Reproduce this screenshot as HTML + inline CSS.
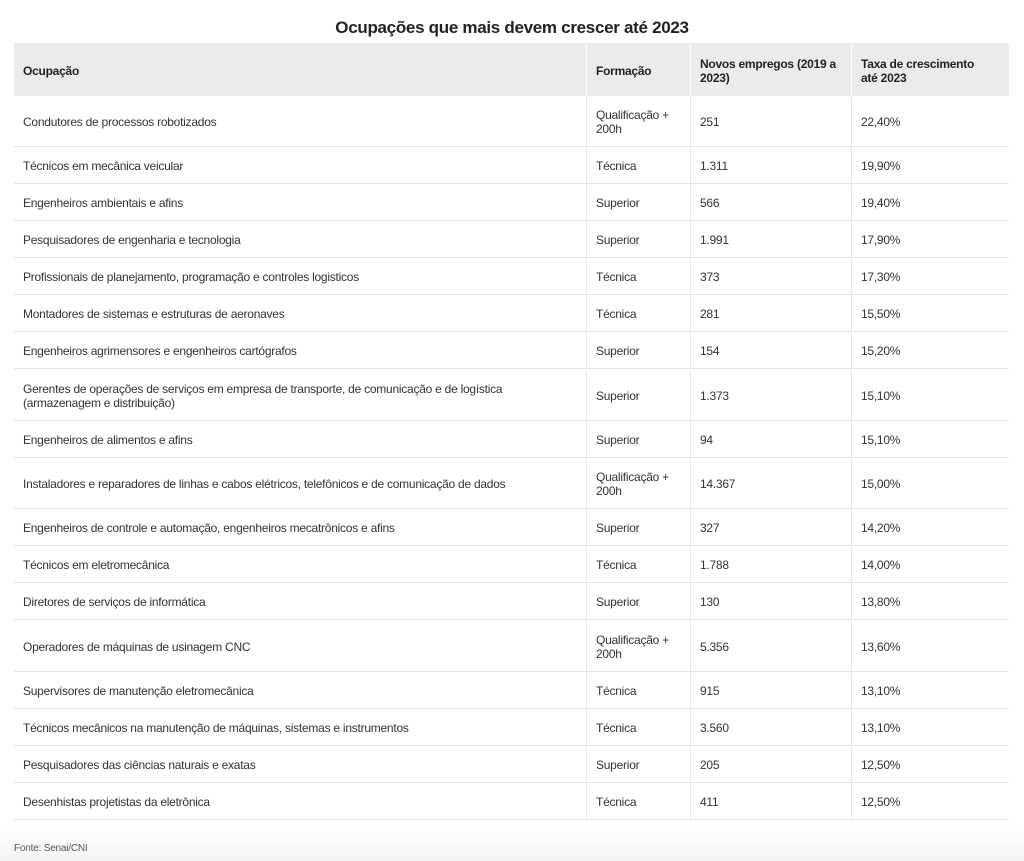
<!DOCTYPE html>
<html><head><meta charset="utf-8"><style>
body{margin:0;width:1024px;height:861px;background:#fff;font-family:"Liberation Sans",sans-serif;color:#333;position:relative;overflow:hidden}
.t{position:absolute;top:18px;left:0;width:1024px;text-align:center;font-size:17px;font-weight:bold;color:#222;letter-spacing:-0.3px}
.hd{position:absolute;left:14px;top:43px;width:995px;height:53px;background:#ebebeb}
.r{position:absolute;left:14px;width:995px;border-bottom:1px solid #e6e6e6}
.c{position:absolute;top:1px;height:100%;display:flex;align-items:center;font-size:12px;line-height:14px;letter-spacing:-0.25px;box-sizing:border-box;padding-left:9px;padding-right:12px}
.c1{left:0;width:572px;padding-right:40px}.c2{left:572px;width:104px;border-left:1px solid #e6e6e6}.c3{left:676px;width:161px;border-left:1px solid #e6e6e6}.c4{left:837px;width:158px;border-left:1px solid #e6e6e6;padding-right:30px}
.h .c{font-weight:bold;color:#222}
.f{position:absolute;left:14px;top:843px;font-size:10px;color:#555;letter-spacing:-0.2px}
.g{position:absolute;left:0;top:828px;width:1024px;height:33px;background:linear-gradient(#fff,#f3f3f3)}
</style></head><body>
<div class="t">Ocupações que mais devem crescer até 2023</div>
<div class="g"></div>
<div class="hd"></div>
<div class="r h" style="top:43px;height:53px;border:none"><div class="c c1">Ocupação</div><div class="c c2" style="border-color:#fff">Formação</div><div class="c c3" style="border-color:#fff">Novos empregos (2019 a 2023)</div><div class="c c4" style="border-color:#fff">Taxa de crescimento até 2023</div></div>
<div class="r" style="top:96px;height:50px"><div class="c c1">Condutores de processos robotizados</div><div class="c c2">Qualificação + 200h</div><div class="c c3">251</div><div class="c c4">22,40%</div></div>
<div class="r" style="top:147px;height:36px"><div class="c c1">Técnicos em mecânica veicular</div><div class="c c2">Técnica</div><div class="c c3">1.311</div><div class="c c4">19,90%</div></div>
<div class="r" style="top:184px;height:36px"><div class="c c1">Engenheiros ambientais e afins</div><div class="c c2">Superior</div><div class="c c3">566</div><div class="c c4">19,40%</div></div>
<div class="r" style="top:221px;height:36px"><div class="c c1">Pesquisadores de engenharia e tecnologia</div><div class="c c2">Superior</div><div class="c c3">1.991</div><div class="c c4">17,90%</div></div>
<div class="r" style="top:258px;height:36px"><div class="c c1">Profissionais de planejamento, programação e controles logisticos</div><div class="c c2">Técnica</div><div class="c c3">373</div><div class="c c4">17,30%</div></div>
<div class="r" style="top:295px;height:36px"><div class="c c1">Montadores de sistemas e estruturas de aeronaves</div><div class="c c2">Técnica</div><div class="c c3">281</div><div class="c c4">15,50%</div></div>
<div class="r" style="top:332px;height:36px"><div class="c c1">Engenheiros agrimensores e engenheiros cartógrafos</div><div class="c c2">Superior</div><div class="c c3">154</div><div class="c c4">15,20%</div></div>
<div class="r" style="top:369px;height:51px"><div class="c c1">Gerentes de operações de serviços em empresa de transporte, de comunicação e de logística<br>(armazenagem e distribuição)</div><div class="c c2">Superior</div><div class="c c3">1.373</div><div class="c c4">15,10%</div></div>
<div class="r" style="top:421px;height:36px"><div class="c c1">Engenheiros de alimentos e afins</div><div class="c c2">Superior</div><div class="c c3">94</div><div class="c c4">15,10%</div></div>
<div class="r" style="top:458px;height:50px"><div class="c c1">Instaladores e reparadores de linhas e cabos elétricos, telefônicos e de comunicação de dados</div><div class="c c2">Qualificação + 200h</div><div class="c c3">14.367</div><div class="c c4">15,00%</div></div>
<div class="r" style="top:509px;height:36px"><div class="c c1">Engenheiros de controle e automação, engenheiros mecatrônicos e afins</div><div class="c c2">Superior</div><div class="c c3">327</div><div class="c c4">14,20%</div></div>
<div class="r" style="top:546px;height:36px"><div class="c c1">Técnicos em eletromecânica</div><div class="c c2">Técnica</div><div class="c c3">1.788</div><div class="c c4">14,00%</div></div>
<div class="r" style="top:583px;height:36px"><div class="c c1">Diretores de serviços de informática</div><div class="c c2">Superior</div><div class="c c3">130</div><div class="c c4">13,80%</div></div>
<div class="r" style="top:620px;height:51px"><div class="c c1">Operadores de máquinas de usinagem CNC</div><div class="c c2">Qualificação + 200h</div><div class="c c3">5.356</div><div class="c c4">13,60%</div></div>
<div class="r" style="top:672px;height:36px"><div class="c c1">Supervisores de manutenção eletromecânica</div><div class="c c2">Técnica</div><div class="c c3">915</div><div class="c c4">13,10%</div></div>
<div class="r" style="top:709px;height:36px"><div class="c c1">Técnicos mecânicos na manutenção de máquinas, sistemas e instrumentos</div><div class="c c2">Técnica</div><div class="c c3">3.560</div><div class="c c4">13,10%</div></div>
<div class="r" style="top:746px;height:36px"><div class="c c1">Pesquisadores das ciências naturais e exatas</div><div class="c c2">Superior</div><div class="c c3">205</div><div class="c c4">12,50%</div></div>
<div class="r" style="top:783px;height:36px"><div class="c c1">Desenhistas projetistas da eletrônica</div><div class="c c2">Técnica</div><div class="c c3">411</div><div class="c c4">12,50%</div></div>
<div class="f">Fonte: Senai/CNI</div>
</body></html>
